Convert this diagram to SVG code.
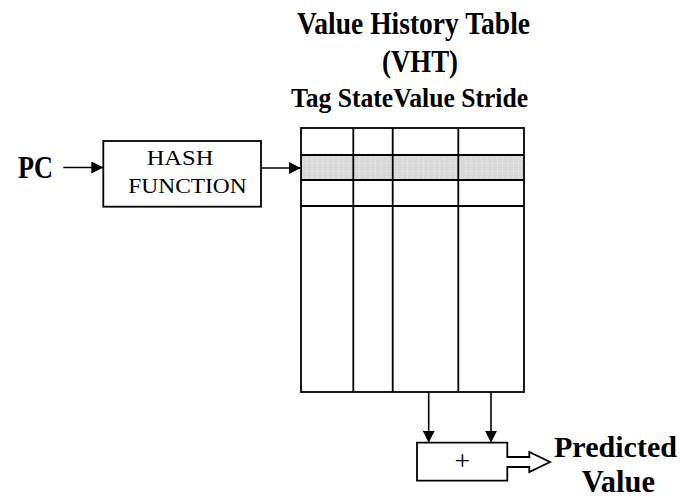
<svg xmlns="http://www.w3.org/2000/svg" width="682" height="497" viewBox="0 0 682 497">
  <style>
    .bold { font-family: "Liberation Serif", "Times New Roman", serif; font-weight: bold; fill: #000; }
    .reg { font-family: "Liberation Serif", "Times New Roman", serif; fill: #000; }
    .box { fill: #fff; stroke: #000; stroke-width: 1.8; }
    .grid { fill: none; stroke: #000; stroke-width: 1.8; }
    .wire { fill: none; stroke: #000; stroke-width: 1.6; }
  </style>
  <defs>
    <marker id="arrow" viewBox="0 0 12 12" refX="12" refY="6" markerWidth="12" markerHeight="12" markerUnits="userSpaceOnUse" orient="auto">
      <path d="M0,0 L12,6 L0,12 Z" fill="#000"/>
    </marker>
    <pattern id="hatch" width="5.3" height="8" patternUnits="userSpaceOnUse" x="301" y="155">
      <rect width="5.3" height="8" fill="#d8d8d8"/>
      <path d="M0.5,0 V8" stroke="#eeeeee" stroke-width="0.8" stroke-dasharray="1.5,1"/>
      <path d="M0,0.5 H5.3" stroke="#e8e8e8" stroke-width="0.8" stroke-dasharray="1,1"/>
    </pattern>
  </defs>

  <!-- heading -->
  <g id="title">
    <text class="bold" x="297" y="33.5" font-size="32" textLength="233" lengthAdjust="spacingAndGlyphs">Value History Table</text>
    <text class="bold" x="382" y="71.5" font-size="31" textLength="76" lengthAdjust="spacingAndGlyphs">(VHT)</text>
  </g>

  <!-- column headers -->
  <g id="headers">
    <text class="bold" x="291" y="106.5" font-size="27" textLength="237" lengthAdjust="spacingAndGlyphs">Tag StateValue Stride</text>
  </g>

  <!-- value history table -->
  <g id="vht">
    <rect x="301" y="155" width="223" height="25" fill="url(#hatch)"/>
    <rect class="grid" x="301" y="128" width="223" height="264"/>
    <path class="grid" d="M353.3,128 V392 M392.7,128 V392 M458.3,128 V392 M301,155 H524 M301,180 H524 M301,206 H524"/>
  </g>

  <!-- program counter input -->
  <g id="pc">
    <text class="bold" x="18" y="177.5" font-size="32" textLength="35" lengthAdjust="spacingAndGlyphs">PC</text>
  </g>

  <!-- hash function -->
  <g id="hash">
    <rect class="box" x="103.3" y="141" width="157.7" height="65.7"/>
    <text class="reg" x="146.7" y="165" font-size="21" textLength="66.7" lengthAdjust="spacingAndGlyphs">HASH</text>
    <text class="reg" x="128.3" y="193.3" font-size="21" textLength="118.4" lengthAdjust="spacingAndGlyphs">FUNCTION</text>
  </g>

  <!-- adder with hollow output arrow -->
  <g id="adder">
    <path class="box" d="M507.3,457 V442.7 H417 V480.7 H507.3 V467 H529.3 V472 L550,462 L529.3,452 V457 Z"/>
    <text class="reg" x="462.5" y="470" font-size="28" text-anchor="middle">+</text>
  </g>

  <!-- result label -->
  <g id="predicted">
    <text class="bold" x="554" y="456.5" font-size="30" textLength="123" lengthAdjust="spacingAndGlyphs">Predicted</text>
    <text class="bold" x="581.7" y="491.5" font-size="31" textLength="73.3" lengthAdjust="spacingAndGlyphs">Value</text>
  </g>

  <!-- connectors -->
  <g id="connectors">
    <path class="wire" d="M63.3,167.5 H103.3" marker-end="url(#arrow)"/>
    <path class="wire" d="M261,168 H301" marker-end="url(#arrow)"/>
    <path class="wire" d="M428.7,392 V442.7" marker-end="url(#arrow)"/>
    <path class="wire" d="M491,392 V442.7" marker-end="url(#arrow)"/>
  </g>
</svg>
